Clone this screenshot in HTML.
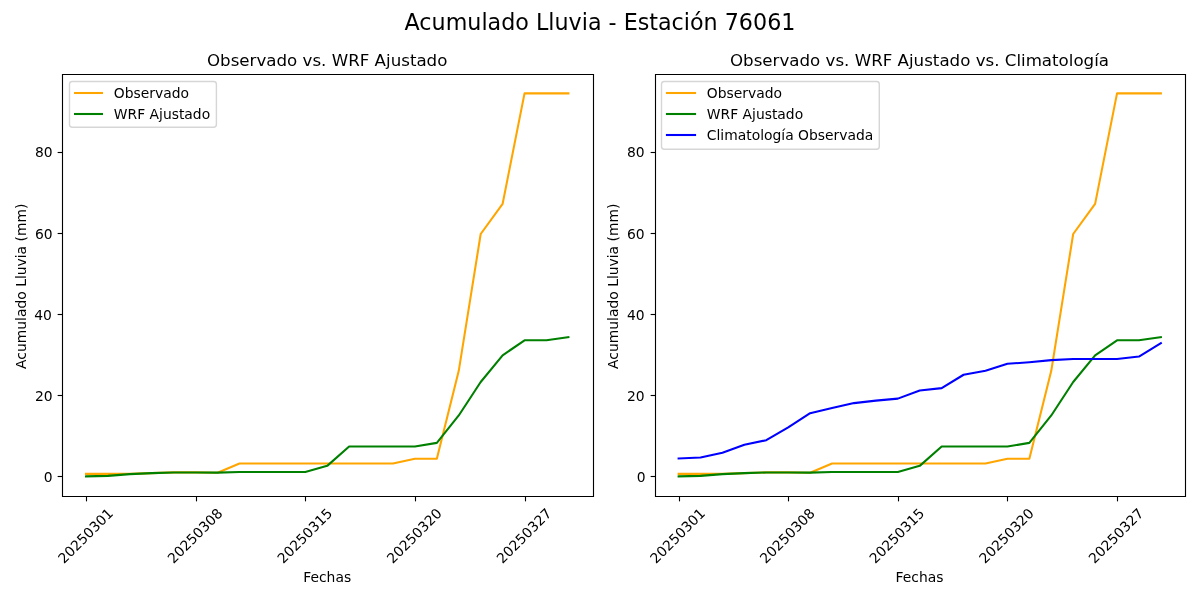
<!DOCTYPE html>
<html><head><meta charset="utf-8"><title>Acumulado Lluvia - Estación 76061</title>
<style>html,body{margin:0;padding:0;background:#fff;width:1200px;height:600px;overflow:hidden}svg{display:block;will-change:transform}</style>
</head><body>
<svg width="1200" height="600" viewBox="0 0 1200 600">
<rect x="0" y="0" width="1200" height="600" fill="#ffffff"/>
<text x="600" y="29.8" text-anchor="middle" style="font-size:22.222px;font-family:'DejaVu Sans',sans-serif">Acumulado Lluvia - Estación 76061</text>
<clipPath id="c0"><rect x="62.5" y="74.5" width="531.0" height="422.0"/></clipPath>
<g clip-path="url(#c0)">
<polyline points="86.02,473.89 107.95,473.89 129.87,473.89 151.80,473.16 173.72,472.35 195.65,472.35 217.58,472.75 239.50,463.56 261.43,463.56 283.35,463.56 305.28,463.56 327.21,463.56 349.13,463.56 371.06,463.56 392.98,463.56 414.91,458.70 436.84,458.70 458.76,370.86 480.69,234.01 502.61,203.83 524.54,93.39 546.47,93.39 568.39,93.39" fill="none" stroke="#ffa500" stroke-width="2.083" stroke-linejoin="round" stroke-linecap="square"/>
<polyline points="86.02,476.40 107.95,475.91 129.87,474.09 151.80,473.16 173.72,472.47 195.65,472.47 217.58,472.59 239.50,471.94 261.43,471.94 283.35,471.94 305.28,471.94 327.21,465.87 349.13,446.51 371.06,446.51 392.98,446.51 414.91,446.51 436.84,442.87 458.76,415.45 480.69,382.03 502.61,355.31 524.54,340.32 546.47,340.32 568.39,337.08" fill="none" stroke="#008000" stroke-width="2.083" stroke-linejoin="round" stroke-linecap="square"/>
</g>
<path d="M62.5 496.5H593.5V74.5H62.5Z" fill="none" stroke="#000" stroke-width="1.111" stroke-linejoin="miter" stroke-linecap="square"/>
<path d="M86.5 496.5V501.36" stroke="#000" stroke-width="1.111"/>
<text transform="translate(88.90 539.30) rotate(-45)" text-anchor="middle" style="font-size:13.889px;font-family:'DejaVu Sans',sans-serif">20250301</text>
<path d="M196.5 496.5V501.36" stroke="#000" stroke-width="1.111"/>
<text transform="translate(198.53 539.30) rotate(-45)" text-anchor="middle" style="font-size:13.889px;font-family:'DejaVu Sans',sans-serif">20250308</text>
<path d="M305.5 496.5V501.36" stroke="#000" stroke-width="1.111"/>
<text transform="translate(308.16 539.30) rotate(-45)" text-anchor="middle" style="font-size:13.889px;font-family:'DejaVu Sans',sans-serif">20250315</text>
<path d="M415.5 496.5V501.36" stroke="#000" stroke-width="1.111"/>
<text transform="translate(417.79 539.30) rotate(-45)" text-anchor="middle" style="font-size:13.889px;font-family:'DejaVu Sans',sans-serif">20250320</text>
<path d="M525.5 496.5V501.36" stroke="#000" stroke-width="1.111"/>
<text transform="translate(527.42 539.30) rotate(-45)" text-anchor="middle" style="font-size:13.889px;font-family:'DejaVu Sans',sans-serif">20250327</text>
<path d="M62.5 476.5H57.64" stroke="#000" stroke-width="1.111"/>
<text x="52.70" y="481.50" text-anchor="end" style="font-size:13.889px;font-family:'DejaVu Sans',sans-serif">0</text>
<path d="M62.5 395.5H57.64" stroke="#000" stroke-width="1.111"/>
<text x="52.70" y="400.50" text-anchor="end" style="font-size:13.889px;font-family:'DejaVu Sans',sans-serif">20</text>
<path d="M62.5 314.5H57.64" stroke="#000" stroke-width="1.111"/>
<text x="51.90" y="319.50" text-anchor="end" style="font-size:13.889px;font-family:'DejaVu Sans',sans-serif">40</text>
<path d="M62.5 233.5H57.64" stroke="#000" stroke-width="1.111"/>
<text x="52.70" y="238.50" text-anchor="end" style="font-size:13.889px;font-family:'DejaVu Sans',sans-serif">60</text>
<path d="M62.5 152.5H57.64" stroke="#000" stroke-width="1.111"/>
<text x="52.70" y="156.50" text-anchor="end" style="font-size:13.889px;font-family:'DejaVu Sans',sans-serif">80</text>
<text x="327.2" y="65.75" text-anchor="middle" style="font-size:16.667px;font-family:'DejaVu Sans',sans-serif">Observado vs. WRF Ajustado</text>
<text x="327.2" y="581.5" text-anchor="middle" style="font-size:13.889px;font-family:'DejaVu Sans',sans-serif">Fechas</text>
<text transform="translate(25.90 286.25) rotate(-90)" text-anchor="middle" style="font-size:13.889px;font-family:'DejaVu Sans',sans-serif">Acumulado Lluvia (mm)</text>
<rect x="69.5" y="81.5" width="146.9" height="45.8" rx="2.78" fill="#ffffff" fill-opacity="0.8" stroke="#cccccc" stroke-opacity="0.8" stroke-width="1.389"/>
<path d="M75.05 93.00H101.95" stroke="#ffa500" stroke-width="2.083" stroke-linecap="square"/>
<text x="113.80" y="97.90" style="font-size:13.889px;font-family:'DejaVu Sans',sans-serif">Observado</text>
<path d="M75.05 114.00H101.95" stroke="#008000" stroke-width="2.083" stroke-linecap="square"/>
<text x="113.80" y="118.90" style="font-size:13.889px;font-family:'DejaVu Sans',sans-serif">WRF Ajustado</text>
<clipPath id="c1"><rect x="655.5" y="74.5" width="530.0" height="422.0"/></clipPath>
<g clip-path="url(#c1)">
<polyline points="678.61,473.89 700.53,473.89 722.45,473.89 744.37,473.16 766.29,472.35 788.22,472.35 810.14,472.75 832.06,463.56 853.98,463.56 875.90,463.56 897.82,463.56 919.74,463.56 941.66,463.56 963.58,463.56 985.50,463.56 1007.42,458.70 1029.35,458.70 1051.27,370.86 1073.19,234.01 1095.11,203.83 1117.03,93.39 1138.95,93.39 1160.87,93.39" fill="none" stroke="#ffa500" stroke-width="2.083" stroke-linejoin="round" stroke-linecap="square"/>
<polyline points="678.61,476.40 700.53,475.91 722.45,474.09 744.37,473.16 766.29,472.47 788.22,472.47 810.14,472.59 832.06,471.94 853.98,471.94 875.90,471.94 897.82,471.94 919.74,465.87 941.66,446.51 963.58,446.51 985.50,446.51 1007.42,446.51 1029.35,442.87 1051.27,415.45 1073.19,382.03 1095.11,355.31 1117.03,340.32 1138.95,340.32 1160.87,337.08" fill="none" stroke="#008000" stroke-width="2.083" stroke-linejoin="round" stroke-linecap="square"/>
<polyline points="678.61,458.46 700.53,457.57 722.45,452.75 744.37,444.81 766.29,440.19 788.22,427.39 810.14,413.22 832.06,407.95 853.98,403.09 875.90,400.66 897.82,398.64 919.74,390.54 941.66,388.11 963.58,374.75 985.50,370.69 1007.42,363.81 1029.35,362.19 1051.27,360.16 1073.19,359.07 1095.11,359.07 1117.03,358.95 1138.95,356.52 1160.87,343.15" fill="none" stroke="#0000ff" stroke-width="2.083" stroke-linejoin="round" stroke-linecap="square"/>
</g>
<path d="M655.5 496.5H1185.5V74.5H655.5Z" fill="none" stroke="#000" stroke-width="1.111" stroke-linejoin="miter" stroke-linecap="square"/>
<path d="M679.5 496.5V501.36" stroke="#000" stroke-width="1.111"/>
<text transform="translate(681.08 539.30) rotate(-45)" text-anchor="middle" style="font-size:13.889px;font-family:'DejaVu Sans',sans-serif">20250301</text>
<path d="M788.5 496.5V501.36" stroke="#000" stroke-width="1.111"/>
<text transform="translate(790.69 539.30) rotate(-45)" text-anchor="middle" style="font-size:13.889px;font-family:'DejaVu Sans',sans-serif">20250308</text>
<path d="M898.5 496.5V501.36" stroke="#000" stroke-width="1.111"/>
<text transform="translate(900.29 539.30) rotate(-45)" text-anchor="middle" style="font-size:13.889px;font-family:'DejaVu Sans',sans-serif">20250315</text>
<path d="M1007.5 496.5V501.36" stroke="#000" stroke-width="1.111"/>
<text transform="translate(1009.89 539.30) rotate(-45)" text-anchor="middle" style="font-size:13.889px;font-family:'DejaVu Sans',sans-serif">20250320</text>
<path d="M1117.5 496.5V501.36" stroke="#000" stroke-width="1.111"/>
<text transform="translate(1119.50 539.30) rotate(-45)" text-anchor="middle" style="font-size:13.889px;font-family:'DejaVu Sans',sans-serif">20250327</text>
<path d="M655.5 476.5H650.64" stroke="#000" stroke-width="1.111"/>
<text x="645.70" y="481.50" text-anchor="end" style="font-size:13.889px;font-family:'DejaVu Sans',sans-serif">0</text>
<path d="M655.5 395.5H650.64" stroke="#000" stroke-width="1.111"/>
<text x="644.70" y="400.50" text-anchor="end" style="font-size:13.889px;font-family:'DejaVu Sans',sans-serif">20</text>
<path d="M655.5 314.5H650.64" stroke="#000" stroke-width="1.111"/>
<text x="644.70" y="319.50" text-anchor="end" style="font-size:13.889px;font-family:'DejaVu Sans',sans-serif">40</text>
<path d="M655.5 233.5H650.64" stroke="#000" stroke-width="1.111"/>
<text x="644.70" y="238.50" text-anchor="end" style="font-size:13.889px;font-family:'DejaVu Sans',sans-serif">60</text>
<path d="M655.5 152.5H650.64" stroke="#000" stroke-width="1.111"/>
<text x="644.70" y="156.50" text-anchor="end" style="font-size:13.889px;font-family:'DejaVu Sans',sans-serif">80</text>
<text x="919.5" y="65.75" text-anchor="middle" style="font-size:16.667px;font-family:'DejaVu Sans',sans-serif">Observado vs. WRF Ajustado vs. Climatología</text>
<text x="919.5" y="581.5" text-anchor="middle" style="font-size:13.889px;font-family:'DejaVu Sans',sans-serif">Fechas</text>
<text transform="translate(617.80 286.25) rotate(-90)" text-anchor="middle" style="font-size:13.889px;font-family:'DejaVu Sans',sans-serif">Acumulado Lluvia (mm)</text>
<rect x="661.5" y="81.5" width="217.8" height="67.8" rx="2.78" fill="#ffffff" fill-opacity="0.8" stroke="#cccccc" stroke-opacity="0.8" stroke-width="1.389"/>
<path d="M666.95 93.00H695.05" stroke="#ffa500" stroke-width="2.083" stroke-linecap="square"/>
<text x="706.80" y="97.90" style="font-size:13.889px;font-family:'DejaVu Sans',sans-serif">Observado</text>
<path d="M666.95 114.00H695.05" stroke="#008000" stroke-width="2.083" stroke-linecap="square"/>
<text x="706.80" y="118.90" style="font-size:13.889px;font-family:'DejaVu Sans',sans-serif">WRF Ajustado</text>
<path d="M666.95 135.00H695.05" stroke="#0000ff" stroke-width="2.083" stroke-linecap="square"/>
<text x="706.80" y="139.90" style="font-size:13.889px;font-family:'DejaVu Sans',sans-serif">Climatología Observada</text>
</svg>
</body></html>
